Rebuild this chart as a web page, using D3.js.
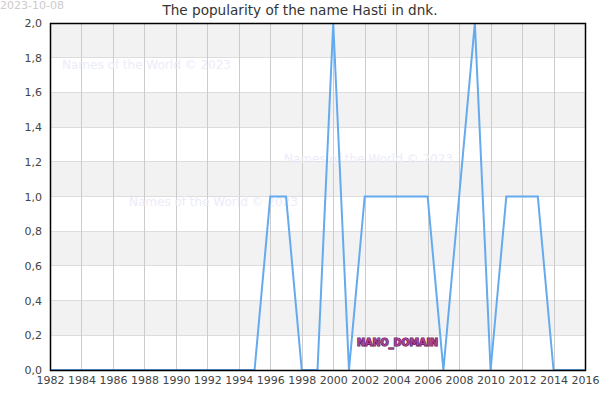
<!DOCTYPE html>
<html><head><meta charset="utf-8">
<script src="https://cdn.jsdelivr.net/npm/d3@7"></script>
<style>body{margin:0;background:#fff}svg{display:block;font-family:"DejaVu Sans",sans-serif}</style>
</head><body><svg id="c" width="600" height="400"></svg>
<script>
const years = d3.range(1982, 2017);
const values = [0,0,0,0,0,0,0,0,0,0,0,0,0,0,1,1,0,0,2,0,1,1,1,1,1,0,1,2,0,1,1,1,0,0,0];
const xTicks = d3.range(1982, 2017, 2);
const yTicks = d3.range(0, 11).map(i => i * 0.2);
const titleText = "The popularity of the name Hasti in dnk.";
const dateText = "2023-10-08";
const watermarks = [[62,65],[129,202],[284,159]];

const svg = d3.select("#c");
const m = {l:50, r:585, t:23, b:370};
const x = d3.scaleLinear().domain([1982, 2016]).range([m.l, m.r]);
const y = d3.scaleLinear().domain([0, 2]).range([m.b, m.t]);

// bands
const bands = yTicks.slice(0, -1).filter((d,i) => i % 2 === 1);
svg.selectAll("rect.band").data(bands).enter().append("rect")
  .attr("x", m.l).attr("width", m.r - m.l)
  .attr("y", d => y(d + 0.2)).attr("height", d => y(d) - y(d + 0.2))
  .attr("fill", "#f2f2f2");

// grid
svg.selectAll("line.hg").data(yTicks).enter().append("line")
  .attr("x1", m.l).attr("x2", m.r).attr("y1", d => y(d)).attr("y2", d => y(d))
  .attr("stroke", "#dddddd").attr("stroke-width", 1).attr("shape-rendering","crispEdges");
svg.selectAll("line.vg").data(xTicks).enter().append("line")
  .attr("y1", m.t).attr("y2", m.b).attr("x1", d => Math.round(x(d)) + 0.5).attr("x2", d => Math.round(x(d)) + 0.5)
  .attr("stroke", "#cccccc").attr("stroke-width", 1);

// watermarks
svg.selectAll("text.wm").data(watermarks).enter().append("text")
  .attr("x", d => d[0]).attr("y", d => d[1]).attr("dy", "0.35em")
  .attr("font-size", 12).attr("fill", "#ececfa").text("Names of the World © 2023");

// line
svg.append("path").datum(years.map((yr, i) => [yr, values[i]]))
  .attr("fill", "none").attr("stroke", "#66aaee").attr("stroke-width", 2)
  .attr("d", d3.line().x(d => x(d[0])).y(d => y(d[1])));

// frame
svg.append("rect").attr("x", m.l + 0.5).attr("y", m.t + 0.5)
  .attr("width", m.r - m.l).attr("height", m.b - m.t)
  .attr("fill", "none").attr("stroke", "#000").attr("stroke-width", 1.5);

// axes
const fmt = d => d3.format(".1f")(d).replace(".", ",");
const xa = svg.append("g").attr("transform", `translate(0,${m.b})`)
  .call(d3.axisBottom(x).tickValues(xTicks).tickFormat(d3.format("d")).tickSize(0).tickPadding(6));
const ya = svg.append("g").attr("transform", `translate(${m.l},0)`)
  .call(d3.axisLeft(y).tickValues(yTicks).tickFormat(fmt).tickSize(0).tickPadding(8));
[xa, ya].forEach(a => {
  a.select(".domain").remove();
  a.selectAll("text").attr("font-size", 11).attr("fill", "#444").attr("font-family", "DejaVu Sans, sans-serif");
});

// title & date
svg.append("text").attr("x", 300).attr("y", 15).attr("text-anchor", "middle")
  .attr("font-size", 13.6).attr("fill", "#333").text(titleText);
svg.append("text").attr("x", 0).attr("y", 9).attr("font-size", 11).attr("fill", "#cccccc").text(dateText);

// nano domain
svg.append("text").attr("x", 357).attr("y", 346).attr("font-size", 9.6).attr("font-weight", "bold")
  .attr("fill", "#a8428f").attr("stroke", "#5a1050").attr("stroke-width", 1.2).attr("paint-order", "stroke")
  .text("NANO_DOMAIN");
</script></body></html>
